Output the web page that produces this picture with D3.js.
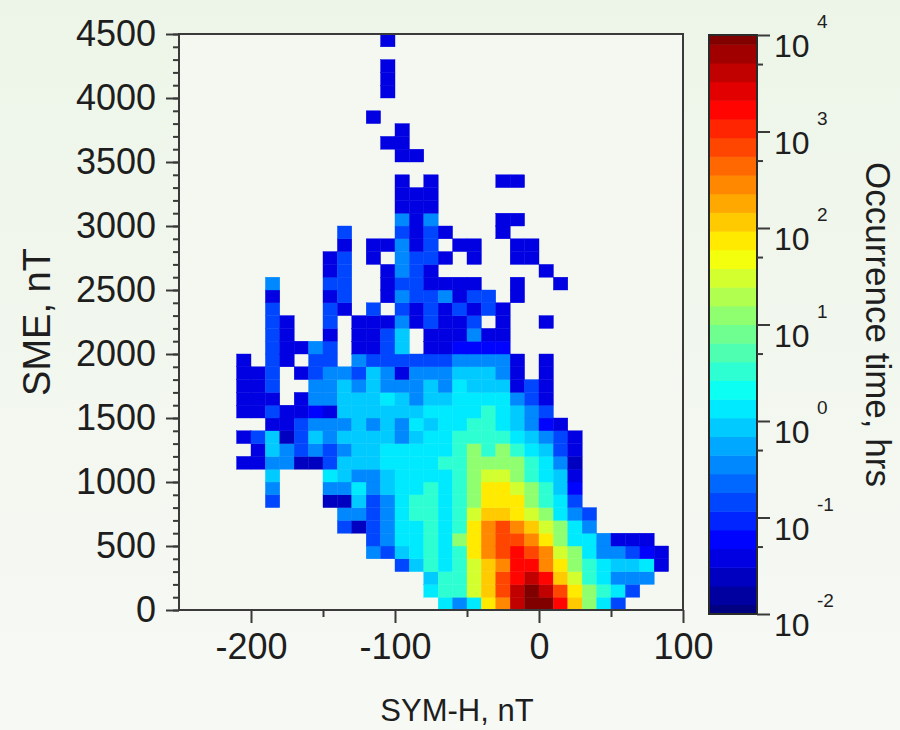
<!DOCTYPE html>
<html><head><meta charset="utf-8">
<script src="https://cdn.jsdelivr.net/npm/d3@7"></script>
<style>
html,body{margin:0;padding:0;}
body{width:900px;height:730px;overflow:hidden;background:#f2f7ef;}
text{font-family:"Liberation Sans",Arial,Helvetica,sans-serif;fill:#1e1e1e;}
</style></head><body>
<svg id="chart" width="900" height="730"></svg>
<script>
const _ = null;
// SYM-H bin width 10 nT, SME bin height 100 nT
const symhBinWidth = 10;
const smeBinHeight = 100;
const symhTicks = [-200, -100, 0, 100];
const symhMinorTicks = [-150, -50, 50];
const smeTicks = [0, 500, 1000, 1500, 2000, 2500, 3000, 3500, 4000, 4500];
const colorExponents = [-2, -1, 0, 1, 2, 3, 4];
// log10(occurrence time, hrs); one row per SME bin (0-100, 100-200, ...):
// [SYM-H left edge of first bin, values for consecutive SYM-H bins]
const occurrenceLog10 = [
  [-70, [0.2,-0.45,0.2,1.8,2.5,3.6,3.95,3.95,3.2,2.1,1,0.2,-0.85]],
  [-80, [0.2,0.6,0.6,1.4,2.1,2.9,3.6,3.95,3.6,2.9,1.8,1,0.6,0.2,-0.85]],
  [-80, [-0.1,0.6,0.6,1.4,2.1,2.9,3.2,3.6,3.2,2.1,1.4,0.6,0.2,-0.45,-0.45,-0.45]],
  [-100, [-0.85,-0.1,0.6,0.2,0.6,1.4,2.1,2.5,3.2,3.2,2.5,1.8,1,0.6,0.2,-0.1,-0.1,0.2,-1.4]],
  [-120, [-0.45,-0.85,-0.1,0.2,0.6,0.2,0.6,1.8,2.5,2.9,3.2,2.9,2.5,1.4,1,0.2,-0.45,-0.45,-0.85,-1.2,-1.4]],
  [-120, [-0.85,-0.45,0.2,0.2,0.6,0.2,1,1.8,2.5,2.9,2.9,2.5,1.8,1,0.2,0.2,-0.45,-1.4,-1.4,-1.4]],
  [-140, [-0.85,-1.6,-0.85,-0.45,0.2,0.2,0.6,0.2,0.6,1.8,2.5,2.9,2.5,2.1,1.4,1,0.2,-0.45]],
  [-140, [-0.45,-0.45,-0.85,-0.45,0.2,0.6,0.6,0.2,0.6,1.4,2.1,2.1,1.8,1.4,1,0.2,-0.45,-0.85]],
  [-190, [-0.85,_,_,_,-1.6,-1.6,-0.1,-0.85,-0.45,0.2,0.6,0.6,0.2,0.6,1,1.8,1.8,1.8,1,0.6,0.2,-0.85]],
  [-190, [-0.45,_,_,_,-0.45,-0.45,0.2,-0.45,-0.1,0.2,0.2,0.6,0.2,0.6,1,1.8,1.8,1.4,1,0.6,-0.1,-1.2]],
  [-190, [-0.1,_,_,_,0.2,-0.1,-0.45,-0.45,-0.1,0.2,0.2,0.2,0.2,0.6,1,1.4,1.4,1,0.6,0.2,-0.1,-1.4]],
  [-210, [-1.4,-1.4,-0.45,-0.45,-1.6,-1.6,-0.85,-0.1,-0.1,-0.1,0.2,0.2,0.2,0.2,0.6,0.6,1,1,1,1,0.6,0.2,-0.45,-1.6]],
  [-200, [-1.4,-0.1,-0.45,-0.85,-0.45,-0.85,-0.45,-0.1,-0.1,0.2,0.2,0.2,0.2,0.2,0.6,1,0.6,1,0.6,0.2,-0.1,-0.85,-1.4]],
  [-210, [-1.4,-0.85,-0.1,-1.6,-0.85,-0.1,-0.45,-0.1,-0.1,-0.1,-0.1,-0.45,-0.1,0.2,0.2,0.6,0.6,0.6,0.6,0.2,-0.1,-0.45,-0.85,-1.4]],
  [-190, [-1.4,-1.4,-0.85,-0.45,-0.45,-0.45,-0.1,-0.45,-0.1,-0.45,0.2,-0.1,0.2,0.2,0.6,0.6,0.2,-0.1,-0.45,-1.2,-1.4]],
  [-210, [-1.4,-1.4,-0.85,-1.4,-1.4,-1.2,-1.4,-0.1,-0.1,-0.1,-0.1,-0.1,-0.1,0.2,0.2,0.2,0.2,0.6,0.2,-0.1,-0.45,-0.85]],
  [-210, [-1.4,-1.4,-1.4,_,-1.4,-0.45,-0.45,-0.1,-0.1,-0.1,0.2,-0.1,-0.45,-0.1,-0.1,0.2,0.2,0.2,0.2,-0.45,-0.85,-1.4]],
  [-210, [-1.4,-1.4,-0.85,_,_,-0.45,-0.45,-0.1,-0.45,-0.1,-0.45,-0.45,-0.45,-0.1,-0.45,0.2,-0.1,-0.1,-0.1,-1.4,-0.85,-1.4]],
  [-210, [-1.4,-1.4,-0.85,_,-1.4,-0.85,-0.45,-0.45,-0.85,-0.1,-0.45,-1.4,-0.45,-0.45,-0.45,-0.1,-0.1,-0.1,-0.45,-1.4,_,-1.4]],
  [-210, [-1.4,_,-0.85,-1.4,_,-0.85,-0.85,_,-0.45,-0.85,-0.85,-0.85,-0.85,-0.85,-0.85,-0.45,-0.45,-0.45,-0.45,-1.4,_,-1.4]],
  [-190, [-0.85,-1.4,-1.4,-0.45,-0.85,_,-1.4,-1.4,-0.85,-0.1,_,-1.4,-1.4,-1.2,-1.2,-1.2,-1.2]],
  [-190, [-0.85,-1.4,_,_,-1.4,_,-1.4,-1.4,-0.85,-0.1,_,-1.4,-1.4,-1.4,-0.45,-1.4,-1.4]],
  [-190, [-0.85,-1.4,_,_,-0.85,_,-1.4,-1.4,-1.4,-0.45,-1.4,-0.85,-1.4,-1.4,-0.85,_,-1.4,_,_,-1.4]],
  [-190, [-0.85,_,_,_,-0.85,-1.4,_,-0.85,_,-0.85,-1.4,-0.85,-1.4,-0.85,-1.4,-0.85,-1.4]],
  [-190, [-1.4,_,_,_,-1.4,-0.85,_,_,-1.4,-0.45,-0.85,-0.85,-0.45,-1.4,-0.85,-0.85,_,-1.4]],
  [-190, [-0.45,_,_,_,-0.85,-0.85,_,_,-1.4,-0.85,-0.85,-1.4,-1.4,-1.4,-1.4,_,_,-1.4,_,_,-1.4]],
  [-150, [-1.4,-0.85,_,_,-1.4,-0.45,-0.85,-1.4,_,_,_,_,_,_,_,-1.4]],
  [-150, [-1.4,-0.85,_,-1.4,_,-0.45,-0.85,-0.85,-1.4,_,-1.4,_,_,-1.4,-1.4]],
  [-140, [-1.4,_,-1.4,-1.4,-0.45,-1.4,-0.85,_,-1.4,-1.4,_,_,-1.4,-1.4]],
  [-140, [-0.85,_,_,_,-0.85,-1.4,-0.85,-1.4,_,_,_,-1.4]],
  [-100, [-0.45,-1.4,-0.45,_,_,_,_,-1.4,-1.4]],
  [-100, [-1.4,-1.4,-1.4]],
  [-100, [-1.4,-1.4,-1.4]],
  [-100, [-1.4,_,-1.4,_,_,_,_,-1.4,-1.4]],
  [-100, []],
  [-100, [-1.4,-1.4]],
  [-110, [-1.4,-1.4]],
  [-100, [-1.4]],
  [-120, [-1.4]],
  [-100, []],
  [-110, [-1.4]],
  [-110, [-1.4]],
  [-110, [-1.4]],
  [-100, []],
  [-110, [-1.4]]
];

const W = 900, H = 730;
const svg = d3.select("#chart");
const defs = svg.append("defs");
const grad = defs.append("linearGradient").attr("id","bg").attr("x1",0).attr("y1",0).attr("x2",0).attr("y2",1);
grad.append("stop").attr("offset","0%").attr("stop-color","#edf5e8");
grad.append("stop").attr("offset","100%").attr("stop-color","#f7f9f5");
svg.append("rect").attr("width",W).attr("height",H).attr("fill","url(#bg)");

const x = d3.scaleLinear().domain([-250, 100]).range([179, 683]);
const y = d3.scaleLinear().domain([0, 4500]).range([610, 34]);
const cbar = d3.scaleLog().domain([1e-2, 1e4]).range([614, 35]);
const NLEV = 32;

function jet(t) {
  const cl = v => Math.max(0, Math.min(1, v));
  const r = cl(1.5 - Math.abs(4*t - 3));
  const g = cl(1.5 - Math.abs(4*t - 2));
  const b = cl(1.5 - Math.abs(4*t - 1));
  return d3.rgb(r*255, g*255, b*255).formatHex();
}
function levelOf(lv) {
  return Math.max(0, Math.min(NLEV-1, Math.round((lv + 2) / 6 * (NLEV-1))));
}

// plot area fill
svg.append("rect").attr("x",x(-250)).attr("y",y(4500)).attr("width",x(100)-x(-250)).attr("height",y(0)-y(4500)).attr("fill","#f4f8f1");

// cells
const cells = [];
occurrenceLog10.forEach((row, k) => {
  const [start, vals] = row;
  vals.forEach((v, j) => {
    if (v === null) return;
    cells.push({symh: start + j*symhBinWidth, sme: k*smeBinHeight, v});
  });
});
svg.append("g").selectAll("rect").data(cells).join("rect")
  .attr("x", d => x(d.symh))
  .attr("y", d => y(d.sme + smeBinHeight))
  .attr("width", d => x(d.symh + symhBinWidth) - x(d.symh))
  .attr("height", d => y(d.sme) - y(d.sme + smeBinHeight))
  .attr("fill", d => jet(levelOf(d.v)/(NLEV-1)))
  .attr("stroke", d => jet(levelOf(d.v)/(NLEV-1)))
  .attr("stroke-width", 0.4);

// frame
svg.append("rect").attr("x",x(-250)).attr("y",y(4500)).attr("width",x(100)-x(-250)).attr("height",y(0)-y(4500))
  .attr("fill","none").attr("stroke","#3a3a3a").attr("stroke-width",2);

const axisColor = "#3a3a3a";
function styleAxis(g) {
  g.select(".domain").remove();
  g.selectAll(".tick line").attr("stroke", axisColor).attr("stroke-width", 2);
  g.selectAll(".tick text").attr("font-size", 36).attr("fill", "#1e1e1e")
    .style("font-family", '"Liberation Sans",Arial,sans-serif');
}
// x axis
svg.append("g").attr("transform", `translate(0,${y(0)})`)
  .call(d3.axisBottom(x).tickValues(symhMinorTicks).tickSize(7).tickFormat(""))
  .call(styleAxis);
svg.append("g").attr("transform", `translate(0,${y(0)})`)
  .call(d3.axisBottom(x).tickValues(symhTicks).tickSize(13).tickPadding(10).tickFormat(d => d === 0 ? "0" : (d < 0 ? "-" + Math.abs(d) : String(d))))
  .call(styleAxis);
// y axis
svg.append("g").attr("transform", `translate(${x(-250)},0)`)
  .call(d3.axisLeft(y).tickValues(d3.range(0, 4501, smeBinHeight)).tickSize(6).tickFormat(""))
  .call(styleAxis);
svg.append("g").attr("transform", `translate(${x(-250)},0)`)
  .call(d3.axisLeft(y).tickValues(smeTicks).tickSize(13).tickPadding(10).tickFormat(d3.format("d")))
  .call(styleAxis);

// axis titles
svg.append("text").attr("x", 457).attr("y", 721).attr("text-anchor","middle").attr("font-size", 31).text("SYM-H, nT");
svg.append("text").attr("transform", `translate(50,${(y(0)+y(4500))/2}) rotate(-90)`).attr("text-anchor","middle").attr("font-size", 38).text("SME, nT");

// colorbar
const cbX = 709, cbW = 48;
const bands = d3.range(NLEV).map(i => {
  const lo = Math.max(-2, -2 + 6*(i-0.5)/(NLEV-1));
  const hi = Math.min(4, -2 + 6*(i+0.5)/(NLEV-1));
  return {i, lo, hi};
});
svg.append("g").selectAll("rect").data(bands).join("rect")
  .attr("x", cbX).attr("width", cbW)
  .attr("y", d => cbar(Math.pow(10, d.hi)))
  .attr("height", d => cbar(Math.pow(10, d.lo)) - cbar(Math.pow(10, d.hi)) + 0.5)
  .attr("fill", d => jet(d.i/(NLEV-1)));
svg.append("rect").attr("x", cbX).attr("y", cbar(1e4)).attr("width", cbW).attr("height", cbar(1e-2)-cbar(1e4))
  .attr("fill","none").attr("stroke","#2a2a2a").attr("stroke-width",2);
const cbAxisG = svg.append("g").attr("transform", `translate(${cbX+cbW},0)`);
cbAxisG.call(d3.axisRight(cbar).tickValues(colorExponents.map(e => Math.pow(10, e))).tickSize(13).tickFormat(""));
cbAxisG.call(g => { g.select(".domain").remove(); g.selectAll(".tick line").attr("stroke", axisColor).attr("stroke-width", 2); });
const cbMinor = svg.append("g").attr("transform", `translate(${cbX+cbW},0)`);
cbMinor.call(d3.axisRight(cbar).tickValues(colorExponents.slice(0,-1).map(e => 5*Math.pow(10, e))).tickSize(6).tickFormat(""));
cbMinor.call(g => { g.select(".domain").remove(); g.selectAll(".tick line").attr("stroke", axisColor).attr("stroke-width", 2); });
const lab = svg.append("g");
colorExponents.forEach(e => {
  const ty = cbar(Math.pow(10, e));
  lab.append("text").attr("x", 774).attr("y", ty + 22).attr("font-size", 32).text("10");
  lab.append("text").attr("x", 817).attr("y", ty - 7).attr("font-size", 19).text(String(e));
});
svg.append("text").attr("transform", `translate(866,${(cbar(1e4)+cbar(1e-2))/2}) rotate(90)`)
  .attr("text-anchor","middle").attr("font-size", 35).text("Occurrence time, hrs");
</script>
</body></html>
